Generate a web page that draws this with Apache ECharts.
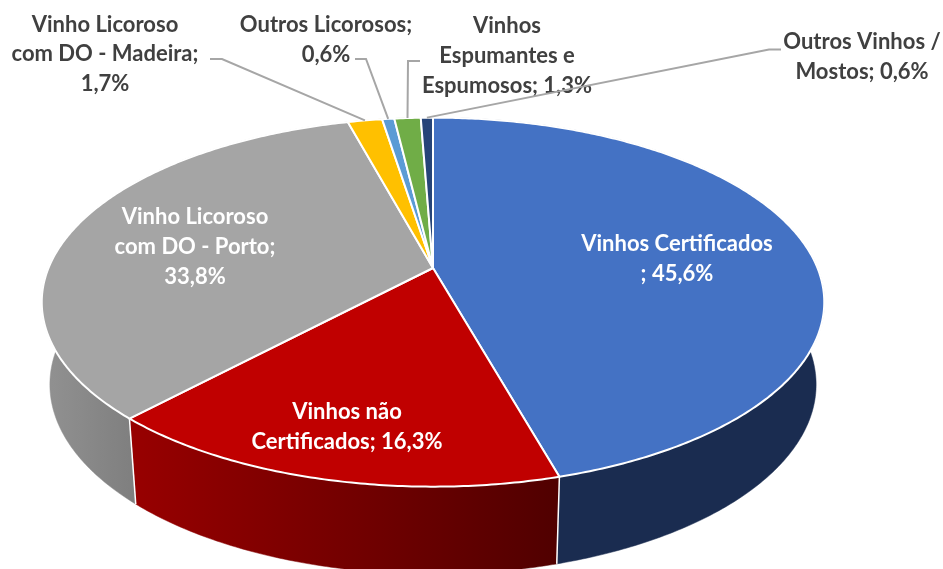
<!DOCTYPE html>
<html>
<head>
<meta charset="utf-8">
<style>html,body{margin:0;padding:0;background:#fff;overflow:hidden}#c{width:943px;height:569px}</style>
<script src="https://cdn.jsdelivr.net/npm/echarts@6/dist/echarts.min.js"></script>
</head>
<body>
<div id="c"></div>
<script>
// ---- data ----
const categories = ['Vinhos Certificados','Vinhos não Certificados','Vinho Licoroso com DO - Porto','Vinho Licoroso com DO - Madeira','Outros Licorosos','Vinhos Espumantes e Espumosos','Outros Vinhos / Mostos'];
const shares = [45.6, 16.3, 33.8, 1.7, 0.6, 1.3, 0.6];
const labelLines = [
  ['Vinhos Certificados','; 45,6%'],
  ['Vinhos não','Certificados; 16,3%'],
  ['Vinho Licoroso','com DO - Porto;','33,8%'],
  ['Vinho Licoroso','com DO - Madeira;','1,7%'],
  ['Outros Licorosos;','0,6%'],
  ['Vinhos','Espumantes e','Espumosos; 1,3%'],
  ['Outros Vinhos /','Mostos; 0,6%']
];
// ---- styles and layout ----
const topColors = ['#4472C4','#C00000','#A5A5A5','#FFC000','#5B9BD5','#70AD47','#264478'];
const grad = (x, x2, a, b) => ({type:'linear', x, y:0, x2, y2:0, global:true, colorStops:[{offset:0,color:a},{offset:1,color:b}]});
const wallColors = ['#1A2C50', grad(130,560,'#980000','#500000'), grad(42,138,'#929292','#7E7E7E'), '#997300', '#2E75B6', '#43682B', '#172A4A'];
const textColors = ['#fff','#fff','#fff','#404040','#404040','#404040','#404040'];
const labelPos = [[677,244,29.5],[347,412,29.5],[195,217,30],[105,24.5,29.5],[326,25,29.5],[507,26,30],[862,42,30]];
const leaderElbows = [null,null,null,[[210,59],[222,59]],[[355,59],[366,59]],[[420,61],[408,61]],[[781,49.5],[769,49.5]]];
const FONT = 'bold 22px Lato, "Open Sans", sans-serif';
const topDisc = {x0:433, y0:268, a:384.5, b:178.2, k:0.185};
const baseDisc = {x0:433, y0:349.5, a:376.5, b:183, k:0.185};
const total = shares.reduce((s,v)=>s+v,0);
const starts = []; shares.reduce((s,v,i)=>{starts[i]=s; return s+v;},0);
const angle = pct => pct/total*2*Math.PI;
const project = (d, t, r=1) => {
  const u = r*Math.sin(t), v = r*Math.cos(t), w = 1 + d.k*v;
  return [d.x0 + d.a*u/w, d.y0 - d.b*v/w];
};
const arcPts = (d, t0, t1) => {
  const n = Math.max(2, Math.ceil((t1-t0)/0.01)), out = [];
  for (let i=0;i<=n;i++) out.push(project(d, t0+(t1-t0)*i/n));
  return out;
};
const seriesData = shares.map((v,i)=>({name:categories[i], value:v}));

const renderWall = (p, api) => {
  const i = p.dataIndex, t0 = angle(starts[i]), t1 = t0 + angle(api.value(0));
  const pts = arcPts(topDisc,t0,t1).concat(arcPts(baseDisc,t0,t1).reverse());
  const a = project(topDisc,t0), b = project(baseDisc,t0);
  return {type:'group', children:[
    {type:'polygon', shape:{points:pts}, style:{fill:wallColors[i], stroke:wallColors[i], lineWidth:0.5}},
    {type:'polyline', shape:{points:[a,b]}, style:{fill:'none', stroke:'#fff', lineWidth:1.5}, z2:5}
  ]};
};
const renderTop = (p, api) => {
  const i = p.dataIndex, t0 = angle(starts[i]), t1 = t0 + angle(api.value(0));
  const pts = [[topDisc.x0,topDisc.y0]].concat(arcPts(topDisc,t0,t1));
  return {type:'polygon', shape:{points:pts}, style:{fill:topColors[i], stroke:'#fff', lineWidth:2, lineJoin:'round'}};
};
const renderLabel = (p, api) => {
  const i = p.dataIndex, children = [];
  if (leaderElbows[i]) {
    const mid = angle(starts[i] + api.value(0)/2);
    children.push({type:'polyline', shape:{points:leaderElbows[i].concat([project(topDisc,mid)])}, style:{fill:'none', stroke:'#A6A6A6', lineWidth:2}});
  }
  const [cx,cy,lh] = labelPos[i];
  labelLines[i].forEach((t,j)=>children.push({type:'text', style:{text:t, x:cx, y:cy+j*lh, align:'center', verticalAlign:'middle', font:FONT, fill:textColors[i]}}));
  return {type:'group', children};
};

const chart = echarts.init(document.getElementById('c'), null, {renderer:'canvas'});
chart.setOption({
  backgroundColor:'#fff',
  animation:false,
  tooltip:{show:false},
  series:[
    {type:'custom', name:'walls', coordinateSystem:'none', z:1, renderItem:renderWall, data:seriesData, silent:true},
    {type:'custom', name:'tops', coordinateSystem:'none', z:2, renderItem:renderTop, data:seriesData, silent:true},
    {type:'custom', name:'labels', coordinateSystem:'none', z:3, renderItem:renderLabel, data:seriesData, silent:true}
  ]
});
</script>
</body>
</html>
